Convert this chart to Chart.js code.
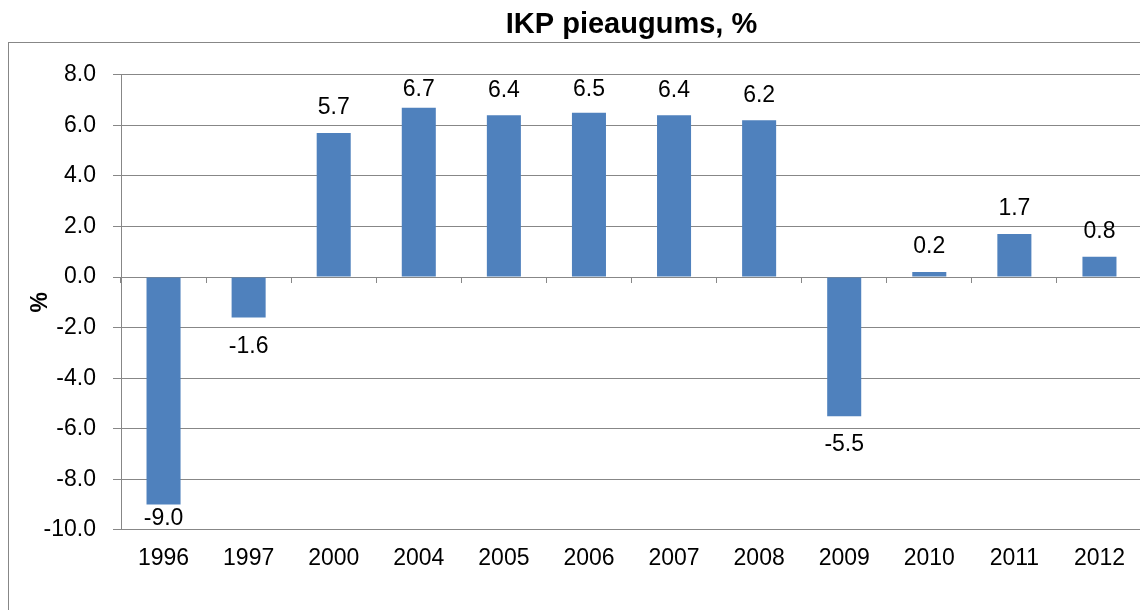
<!DOCTYPE html>
<html>
<head>
<meta charset="utf-8">
<script src="https://cdn.jsdelivr.net/npm/chart.js@4"></script>
<style>
  html, body { margin: 0; padding: 0; background: #fff; overflow: hidden; }
  #wrap { position: relative; width: 1140px; height: 610px; overflow: hidden; }
  #frame { position: absolute; left: 8px; top: 42px; width: 1200px; height: 620px; border: 1px solid #878787; }
  #c { position: absolute; left: 0; top: 0; }
</style>
</head>
<body>
<div id="wrap">
  <div id="frame"></div>
  <canvas id="c" width="1160" height="610"></canvas>
</div>
<script>
// years on the x axis
const years = ['1996', '1997', '2000', '2004', '2005', '2006', '2007', '2008', '2009', '2010', '2011', '2012'];
// GDP growth, %
const growth = [-9.0, -1.6, 5.7, 6.7, 6.4, 6.5, 6.4, 6.2, -5.5, 0.2, 1.7, 0.8];
const yMin = -10;
const yMax = 8;
const yStep = 2;

const font = 'Liberation Sans, Arial, sans-serif';

// value labels above / below each bar (kept inside the plot like Excel does)
const valueLabels = {
  id: 'valueLabels',
  afterDatasetsDraw(chart) {
    const ctx = chart.ctx;
    const area = chart.chartArea;
    const meta = chart.getDatasetMeta(0);
    ctx.save();
    ctx.font = '23px ' + font;
    ctx.fillStyle = '#000';
    ctx.textAlign = 'center';
    ctx.textBaseline = 'middle';
    meta.data.forEach((bar, i) => {
      const v = growth[i];
      let y;
      if (v >= 0) {
        y = Math.max(bar.y - 25, area.top + 15);
      } else {
        y = Math.min(bar.y + 29, area.bottom - 11);
      }
      ctx.fillText(v.toFixed(1), bar.x, y);
    });
    ctx.restore();
  }
};

const ctx = document.getElementById('c');

new Chart(ctx, {
  type: 'bar',
  data: {
    labels: years,
    datasets: [{
      data: growth,
      backgroundColor: '#4f81bd',
      borderWidth: 0,
      barPercentage: 0.4,
      categoryPercentage: 1.0
    }]
  },
  options: {
    responsive: false,
    animation: false,
    events: [],
    layout: { padding: { top: 0, right: 18, bottom: 30.5, left: 0 } },
    plugins: {
      legend: { display: false },
      tooltip: { enabled: false },
      title: {
        display: true,
        text: 'IKP pieaugums, %',
        fullSize: false,
        color: '#000',
        font: { family: font, size: 29, weight: 'bold', lineHeight: 1.2 },
        padding: { top: 8, bottom: 32 }
      }
    },
    scales: {
      x: {
        position: 'bottom',
        grid: { display: false },
        border: { display: true, color: '#878787', width: 1 },
        ticks: {
          color: '#000',
          font: { family: font, size: 23 },
          padding: 7,
          maxRotation: 0,
          autoSkip: false
        }
      },
      // axis crossing at zero, only for its tick marks
      x0: {
        type: 'category',
        labels: years,
        position: { y: 0 },
        offset: true,
        grid: { display: true, drawOnChartArea: false, drawTicks: true, tickLength: 6, color: '#878787', offset: true },
        border: { display: false },
        ticks: { display: false }
      },
      y: {
        min: yMin,
        max: yMax,
        afterFit(scale) { scale.width = 121; },
        grid: { color: '#878787', lineWidth: 1, tickLength: 8 },
        border: { display: true, color: '#878787', width: 1 },
        ticks: {
          stepSize: yStep,
          color: '#000',
          font: { family: font, size: 23 },
          padding: 17,
          callback: v => v.toFixed(1)
        },
        title: {
          display: true,
          text: '%',
          color: '#000',
          font: { family: font, size: 23, weight: 'bold', lineHeight: 1.2 },
          padding: { top: 27, bottom: 0 }
        }
      }
    }
  },
  plugins: [valueLabels]
});
</script>
</body>
</html>
